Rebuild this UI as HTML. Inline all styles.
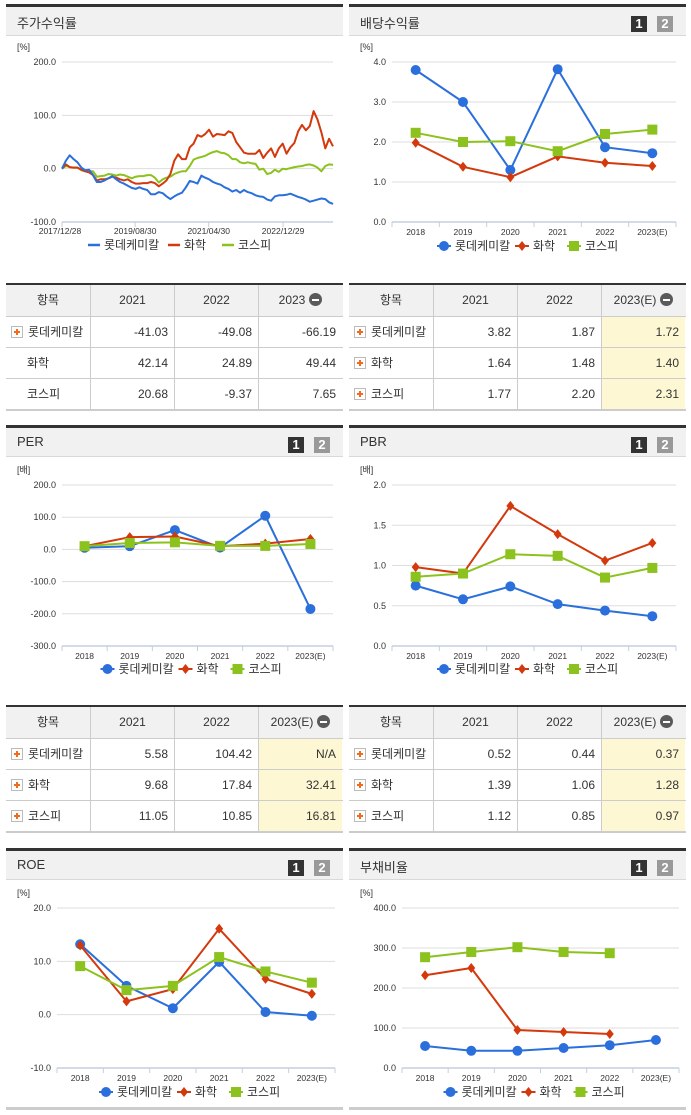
<!DOCTYPE html>
<html><head><meta charset="utf-8">
<style>
body{margin:0;width:691px;height:1115px;background:#fff;position:relative;overflow:hidden;font-family:"Liberation Sans","Noto Sans CJK KR",sans-serif;color:#333}
.abs{position:absolute}
.hdr{position:absolute;background:#f1f1f1;border-top:3px solid #333;border-bottom:1px solid #d9d9d9;height:28px;box-sizing:content-box}
.hdr .t{position:absolute;left:11px;top:6px;font-size:13px;color:#333}
.b1,.b2{position:absolute;top:9px;width:16px;height:16px;color:#fff;font-weight:bold;font-size:13px;text-align:center;line-height:16px}
.b1{background:#333;right:39px}.b2{background:#999;right:13px}
.tbl{position:absolute;border-top:2px solid #333;border-bottom:2px solid #ccc}
.row{display:flex;height:31px;border-top:1px solid #ccc;box-sizing:border-box}
.row:first-child{border-top:none;background:#f1f1f1;height:31px}
.c{flex:0 0 84px;border-left:1px solid #ccc;box-sizing:border-box;font-size:12px;line-height:30px;text-align:right;padding-right:6px;white-space:nowrap;overflow:visible}
.c:first-child{border-left:none;text-align:left;padding-left:5px;padding-right:0}
.row:first-child .c{text-align:center;padding:0}
.y{background:#fdf8d3}
.row:first-child .y{background:none}
.plus{display:inline-block;width:10px;height:10px;border:1px solid #bbb;background:#fff;vertical-align:middle;margin:-2px 5px 0 0;position:relative}
.plus:before,.plus:after{content:"";position:absolute;background:#f26a1b}
.plus:before{left:2px;top:4px;width:6px;height:2px}.plus:after{left:4px;top:2px;width:2px;height:6px}
.mn{display:inline-block;width:13px;height:13px;border-radius:50%;background:#5a5a5a;vertical-align:middle;margin:-3px 0 0 4px;position:relative}
.mn:after{content:"";position:absolute;left:3px;top:6px;width:7px;height:2px;background:#fff}
</style></head><body>

<div class="hdr" style="left:6px;top:4px;width:337px"><span class="t">주가수익률</span></div>
<div class="hdr" style="left:349px;top:4px;width:337px"><span class="t">배당수익률</span><span class="b1">1</span><span class="b2">2</span></div>
<div class="hdr" style="left:6px;top:425px;width:337px"><span class="t">PER</span><span class="b1">1</span><span class="b2">2</span></div>
<div class="hdr" style="left:349px;top:425px;width:337px"><span class="t">PBR</span><span class="b1">1</span><span class="b2">2</span></div>
<div class="hdr" style="left:6px;top:848px;width:337px"><span class="t">ROE</span><span class="b1">1</span><span class="b2">2</span></div>
<div class="hdr" style="left:349px;top:848px;width:337px"><span class="t">부채비율</span><span class="b1">1</span><span class="b2">2</span></div>
<div class="abs" style="left:6px;top:1107px;width:337px;height:3px;background:#ccc"></div>
<div class="abs" style="left:349px;top:1107px;width:337px;height:3px;background:#ccc"></div>

<div class="tbl" style="left:6px;top:283px;width:337px">
<div class="row"><div class="c">항목</div><div class="c">2021</div><div class="c">2022</div><div class="c">2023<span class="mn"></span></div></div>
<div class="row"><div class="c"><span class="plus"></span>롯데케미칼</div><div class="c">-41.03</div><div class="c">-49.08</div><div class="c">-66.19</div></div>
<div class="row"><div class="c" style="padding-left:21px">화학</div><div class="c">42.14</div><div class="c">24.89</div><div class="c">49.44</div></div>
<div class="row"><div class="c" style="padding-left:21px">코스피</div><div class="c">20.68</div><div class="c">-9.37</div><div class="c">7.65</div></div>
</div>
<div class="tbl" style="left:349px;top:283px;width:337px">
<div class="row"><div class="c">항목</div><div class="c">2021</div><div class="c">2022</div><div class="c y">2023(E)<span class="mn"></span></div></div>
<div class="row"><div class="c"><span class="plus"></span>롯데케미칼</div><div class="c">3.82</div><div class="c">1.87</div><div class="c y">1.72</div></div>
<div class="row"><div class="c"><span class="plus"></span>화학</div><div class="c">1.64</div><div class="c">1.48</div><div class="c y">1.40</div></div>
<div class="row"><div class="c"><span class="plus"></span>코스피</div><div class="c">1.77</div><div class="c">2.20</div><div class="c y">2.31</div></div>
</div>
<div class="tbl" style="left:6px;top:705px;width:337px">
<div class="row"><div class="c">항목</div><div class="c">2021</div><div class="c">2022</div><div class="c y">2023(E)<span class="mn"></span></div></div>
<div class="row"><div class="c"><span class="plus"></span>롯데케미칼</div><div class="c">5.58</div><div class="c">104.42</div><div class="c y">N/A</div></div>
<div class="row"><div class="c"><span class="plus"></span>화학</div><div class="c">9.68</div><div class="c">17.84</div><div class="c y">32.41</div></div>
<div class="row"><div class="c"><span class="plus"></span>코스피</div><div class="c">11.05</div><div class="c">10.85</div><div class="c y">16.81</div></div>
</div>
<div class="tbl" style="left:349px;top:705px;width:337px">
<div class="row"><div class="c">항목</div><div class="c">2021</div><div class="c">2022</div><div class="c y">2023(E)<span class="mn"></span></div></div>
<div class="row"><div class="c"><span class="plus"></span>롯데케미칼</div><div class="c">0.52</div><div class="c">0.44</div><div class="c y">0.37</div></div>
<div class="row"><div class="c"><span class="plus"></span>화학</div><div class="c">1.39</div><div class="c">1.06</div><div class="c y">1.28</div></div>
<div class="row"><div class="c"><span class="plus"></span>코스피</div><div class="c">1.12</div><div class="c">0.85</div><div class="c y">0.97</div></div>
</div>

<svg id="svg" class="abs" style="left:0;top:0" width="691" height="1115"></svg>

<script>
const years=["2018","2019","2020","2021","2022","2023(E)"];
const names=["롯데케미칼","화학","코스피"];
const stockTickLabels=["2017/12/28","2019/08/30","2021/04/30","2022/12/29"];
const stockTickIdx=[0,18.9,37.9,57.1];
const stockYTicks=[200,100,0,-100];
const stockLotte=[0,15,25,18,12,2,-3,-2,-12,-25,-25,-22,-18,-14,-20,-25,-28,-32,-36,-38,-35,-38,-40,-48,-48,-44,-46,-52,-57,-52,-48,-45,-35,-23,-25,-28,-13,-17,-20,-25,-28,-30,-35,-38,-43,-40,-45,-40,-44,-46,-50,-52,-53,-58,-60,-52,-50,-50,-49,-47,-50,-53,-55,-58,-62,-60,-58,-56,-57,-63,-66];
const stockChem=[0,8,3,2,2,-2,-5,-7,-12,-22,-20,-20,-18,-15,-17,-20,-22,-20,-25,-28,-28,-27,-27,-25,-27,-33,-28,-22,-10,15,27,18,18,40,47,63,60,65,73,60,65,64,63,70,67,50,40,30,28,28,28,35,20,30,38,22,38,47,28,40,48,70,82,72,80,108,92,68,38,56,42];
const stockKospi=[0,5,3,2,2,-3,-5,-5,-5,-15,-14,-13,-10,-11,-13,-11,-12,-15,-18,-15,-14,-14,-12,-12,-17,-26,-20,-17,-15,-10,-7,-5,-5,5,17,20,22,24,28,31,33,30,29,25,18,18,12,10,12,10,9,-2,0,-10,-8,-2,-6,0,-1,1,3,4,5,7,8,6,2,-5,5,8,7];
const divTicks=[4,3,2,1,0];
const divLotte=[3.8,3.0,1.3,3.82,1.87,1.72];
const divChem=[1.98,1.38,1.12,1.64,1.48,1.40];
const divKospi=[2.23,2.0,2.02,1.77,2.2,2.31];
const perTicks=[200,100,0,-100,-200,-300];
const perLotte=[5,10,60,5.58,104.42,-185];
const perChem=[10,38,40,9.68,17.84,32.41];
const perKospi=[10,20,22,11.05,10.85,16.81];
const pbrTicks=[2,1.5,1,0.5,0];
const pbrLotte=[0.75,0.58,0.74,0.52,0.44,0.37];
const pbrChem=[0.98,0.90,1.74,1.39,1.06,1.28];
const pbrKospi=[0.86,0.90,1.14,1.12,0.85,0.97];
const roeTicks=[20,10,0,-10];
const roeLotte=[13.2,5.4,1.2,9.9,0.5,-0.2];
const roeChem=[13,2.5,4.8,16.1,6.7,3.9];
const roeKospi=[9.1,4.6,5.4,10.8,8.1,6.0];
const debtTicks=[400,300,200,100,0];
const debtLotte=[55,43,43,50,57,70];
const debtChem=[232,250,95,90,85,null];
const debtKospi=[277,290,302,290,287,null];

const COL=["#2a6fdb","#d3390c","#8cc21d"];
const NS="http://www.w3.org/2000/svg";
const svg=document.getElementById('svg');
function mk(tag,attrs,parent){const e=document.createElementNS(NS,tag);for(const k in attrs)e.setAttribute(k,attrs[k]);(parent||svg).appendChild(e);return e;}
function txt(x,y,s,size,anchor,fill){const t=mk('text',{x:x,y:y,'font-size':size,'text-anchor':anchor||'start',fill:fill||'#333','font-family':'Liberation Sans, Noto Sans CJK KR, sans-serif'});t.textContent=s;return t;}

function marker(g,i,x,y){
  let m;
  if(i===0){m=mk('circle',{cx:x,cy:y,r:5,fill:COL[0]},g);}
  else if(i===1){m=mk('path',{d:`M${x} ${y-5}L${x+4} ${y}L${x} ${y+5}L${x-4} ${y}Z`,fill:COL[1]},g);}
  else {m=mk('rect',{x:x-5,y:y-5,width:10,height:10,fill:COL[2]},g);}
  return m;
}
function frame(cfg){
  const {L,R,T,B,ticks,unit,panelX}=cfg;
  const ymax=ticks[0],ymin=ticks[ticks.length-1];
  const ys=v=>T+(ymax-v)/(ymax-ymin)*(B-T);
  txt(panelX+11,T-12,unit,9);
  ticks.forEach(v=>{
    if(v!==ymin){const gl=mk('line',{x1:L,x2:R,y1:ys(v),y2:ys(v),stroke:'#ddd','stroke-width':1});
    
    }
    const t=txt(L-6,ys(v)+3,v.toFixed(1),9,'end');
    
    
  });
  mk('line',{x1:L,x2:R,y1:B,y2:B,stroke:'#c3cfdf','stroke-width':1.5});
  return ys;
}
function legend(cx,y){
  const w=[78,52,48];let x=cx-89;
  for(let i=0;i<3;i++){
    const g=mk('g',{});
    
    
    mk('line',{x1:x,x2:x+14,y1:y,y2:y,stroke:COL[i],'stroke-width':2},g);
    marker(g,i,x+7,y);
    const t=txt(x+18,y+4,names[i],12,'start','#333');g.appendChild(t);
    x+=w[i];
  }
}
function catChart(cfg,series){
  const ys=frame(cfg);
  const {L,R,B}=cfg;const bw=(R-L)/years.length;const xs=i=>L+bw*(i+0.5);
  years.forEach((yr,i)=>{
    mk('line',{x1:L+bw*i,x2:L+bw*i,y1:B,y2:B+5,stroke:'#c3cfdf'});
    const t=txt(xs(i),B+13,yr,8.5,'middle');
    
    
  });
  mk('line',{x1:R,x2:R,y1:B,y2:B+5,stroke:'#c3cfdf'});
  series.forEach((arr,si)=>{
    const g=mk('g',{});
    
    
    let d='';arr.forEach((v,i)=>{if(v===null)return;d+=(d?'L':'M')+xs(i)+' '+ys(v);});
    mk('path',{d:d,fill:'none',stroke:COL[si],'stroke-width':2},g);
    arr.forEach((v,i)=>{if(v===null)return;const m=marker(g,si,xs(i),ys(v));
      
      });
  });
  legend((L+R)/2-8,cfg.legY);
}
(function(){
  const cfg={L:62,R:333,T:62,B:222,ticks:stockYTicks,unit:'[%]',panelX:6};
  const ys=frame(cfg);const n=stockLotte.length-1;
  const xs=i=>cfg.L+(cfg.R-cfg.L)*i/n;
  stockTickIdx.forEach((ix,k)=>{
    mk('line',{x1:xs(ix),x2:xs(ix),y1:cfg.B,y2:cfg.B+5,stroke:'#c3cfdf'});
    const t=txt(xs(ix)+(k===0?-2:0),cfg.B+12,stockTickLabels[k],8.5,'middle');
    
    
  });
  mk('line',{x1:cfg.L,x2:cfg.L,y1:cfg.B,y2:cfg.B+5,stroke:'#c3cfdf'});
  [stockKospi,stockChem,stockLotte].forEach((arr,k)=>{
    const si=[2,1,0][k];
    let d='';arr.forEach((v,i)=>{d+=(i?'L':'M')+xs(i).toFixed(1)+' '+ys(v).toFixed(1);});
    const p=mk('path',{d:d,fill:'none',stroke:COL[si],'stroke-width':2,'stroke-linejoin':'round'});
    
    
  });
  const w=[78,52,48];let x=88;const y=245;
  for(let i=0;i<3;i++){
    const g=mk('g',{});
    
    
    mk('line',{x1:x,x2:x+12,y1:y,y2:y,stroke:COL[i],'stroke-width':2.5},g);
    g.appendChild(txt(x+16,y+4,names[i],12));
    x+=w[i]+2;
  }
})();
catChart({L:392,R:676,T:62,B:222,ticks:divTicks,unit:'[%]',panelX:349,legY:246},[divLotte,divChem,divKospi]);
catChart({L:62,R:333,T:485,B:646,ticks:perTicks,unit:'[배]',panelX:6,legY:669},[perLotte,perChem,perKospi]);
catChart({L:392,R:676,T:485,B:646,ticks:pbrTicks,unit:'[배]',panelX:349,legY:669},[pbrLotte,pbrChem,pbrKospi]);
catChart({L:57,R:335,T:908,B:1068,ticks:roeTicks,unit:'[%]',panelX:6,legY:1092},[roeLotte,roeChem,roeKospi]);
catChart({L:402,R:679,T:908,B:1068,ticks:debtTicks,unit:'[%]',panelX:349,legY:1092},[debtLotte,debtChem,debtKospi]);
</script>
</body></html>
